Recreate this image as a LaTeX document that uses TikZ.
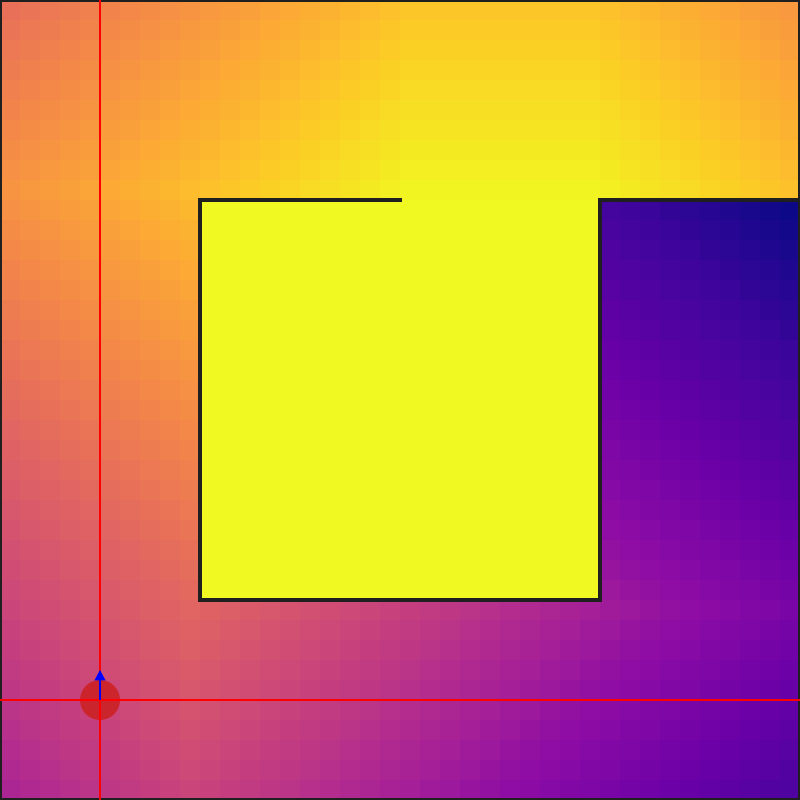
\documentclass[tikz,border=0pt]{standalone}
\usetikzlibrary{arrows.meta}
\definecolor{pl0}{HTML}{0D0887}
\definecolor{pl1}{HTML}{41049D}
\definecolor{pl2}{HTML}{6A00A8}
\definecolor{pl3}{HTML}{8F0DA4}
\definecolor{pl4}{HTML}{B12A90}
\definecolor{pl5}{HTML}{CC4778}
\definecolor{pl6}{HTML}{E16462}
\definecolor{pl7}{HTML}{F2844B}
\definecolor{pl8}{HTML}{FCA636}
\definecolor{pl9}{HTML}{FCCE25}
\definecolor{pl10}{HTML}{F0F921}
\definecolor{wallc}{HTML}{1F1F1F}
\definecolor{agentc}{HTML}{CC2226}
\tikzset{
  wall/.style={draw=wallc, line width=2.6pt, line cap=rect},
  frame/.style={draw=wallc, line width=2.8pt},
  crossline/.style={draw=red, line width=0.9pt},
  agentdisc/.style={fill=agentc, fill opacity=0.92},
  heading/.style={draw=blue, line width=0.8pt, -{Triangle[width=2.7mm,length=2.6mm]}}
}
\begin{document}
\begin{tikzpicture}[x=5mm,y=5mm]
\useasboundingbox (0,0) rectangle (40,-40);
% value heatmap
\foreach \r in {0,...,39}{
  \foreach \c in {0,...,39}{
    \ifnum\r<10
      \ifnum\c<20 \edef\d{\the\numexpr30-\c-\r\relax}%
      \else\ifnum\c>29 \edef\d{\the\numexpr\c-\r-19\relax}%
      \else \edef\d{\the\numexpr10-\r\relax}\fi\fi
    \else
      \ifnum\c<10 \edef\d{\the\numexpr\r-\c+12\relax}%
      \else\ifnum\r>29 \edef\d{\the\numexpr\c+\r-6\relax}%
      \else\ifnum\c>29 \edef\d{\the\numexpr\c-\r+54\relax}%
      \else \edef\d{0}\fi\fi\fi
    \fi
    \pgfmathsetmacro\w{10-10*\d/83}
    \pgfmathtruncatemacro\k{min(floor(\w),9)}
    \pgfmathtruncatemacro\pct{round(100*(\w-\k))}
    \pgfmathtruncatemacro\kk{\k+1}
    \colorlet{cellc}{pl\kk!\pct!pl\k}
    \fill[cellc] (\c,-\r) rectangle ++(1.03,-1.03);
  }
}
% walls
\draw[wall] (10,-10) -- (20,-10);
\draw[wall] (10,-10) -- (10,-30) -- (30,-30) -- (30,-10) -- (40,-10);
% frame
\draw[frame] (0,0) rectangle (40,-40);
% agent
\coordinate (agent) at (5,-35);
\coordinate (top) at (5,0);
\coordinate (bottom) at (5,-40);
\coordinate (left) at (0,-35);
\coordinate (right) at (40,-35);
\fill[agentdisc] (agent) circle (1);
\draw[crossline] (top) -- (bottom);
\draw[crossline] (left) -- (right);
\draw[heading] (agent) -- ++(0,1.5);
\end{tikzpicture}
\end{document}
